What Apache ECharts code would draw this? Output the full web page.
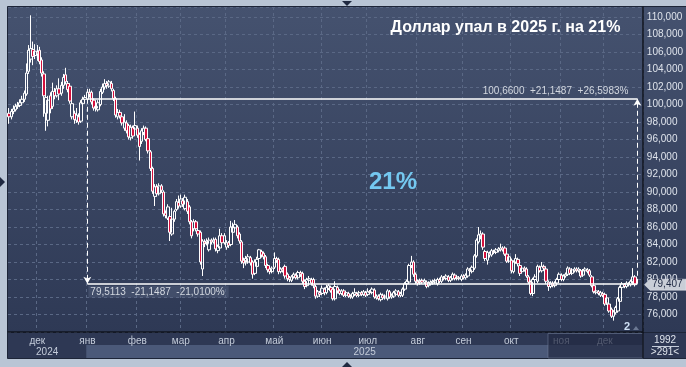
<!DOCTYPE html>
<html><head><meta charset="utf-8">
<script src="https://cdn.jsdelivr.net/npm/echarts@6/dist/echarts.min.js"></script>
<style>html,body{margin:0;padding:0;background:#b9c5d5;overflow:hidden}#c{width:686px;height:367px}</style>
</head><body><div id="c"></div>
<script>
// ---- data (USD/RUB daily candles) ----
const firstSession = [2024, 10, 13];   // 13 Nov 2024
const lastSlot = [2025, 11, 24];       // axis runs a few empty slots past the last candle
const extraSessions = ['2024-12-28'];  // working Saturday
const monthNames = ['янв','фев','мар','апр','май','июн','июл','авг','сен','окт','ноя','дек'];
const opens = [
99.0,98.6,99.2,99.4,99.8,99.9,100.2,100.6,101.2,103.8,105.2,106.3,105.6,106.0,106.2,105.1,103.5,99.0,98.2,101.0,
99.8,101.5,101.0,101.8,101.3,102.2,103.4,102.4,102.1,98.6,99.0,98.2,98.6,98.1,100.1,100.6,100.6,101.4,101.4,100.5,
99.6,99.4,100.0,101.4,102.0,102.4,102.1,102.4,101.6,100.7,98.6,99.1,98.6,97.3,97.9,97.6,96.2,97.4,97.2,97.3,
96.6,95.8,96.8,97.3,96.1,94.6,92.7,89.5,90.6,89.8,90.7,90.0,87.6,87.0,87.2,85.2,86.9,88.0,88.8,88.4,
89.0,88.1,88.9,88.3,86.6,85.8,86.6,85.6,85.4,81.2,84.3,84.1,83.4,84.5,84.3,84.6,83.3,83.6,85.0,84.2,
83.7,84.2,84.0,85.4,85.9,86.0,85.2,84.3,82.2,81.9,82.0,82.5,82.0,80.7,81.5,82.4,83.2,83.0,82.6,81.6,
81.2,80.9,81.4,82.4,82.3,80.9,81.2,81.5,80.6,80.2,79.9,80.3,80.5,80.2,80.8,80.7,79.8,79.3,79.9,80.0,
80.0,79.2,78.1,78.5,78.4,78.9,78.5,79.0,79.1,78.9,77.8,79.1,78.7,78.4,78.7,78.2,78.4,78.1,78.0,78.3,
78.4,78.2,78.5,78.3,78.5,78.3,78.6,78.5,78.8,77.9,78.1,77.7,78.2,77.9,77.8,78.6,78.0,78.1,78.3,78.6,
78.2,78.2,78.9,79.5,79.7,81.6,82.0,80.6,79.8,79.6,79.9,79.7,79.7,79.3,79.5,79.6,79.7,79.5,80.0,79.8,
80.2,80.1,80.3,79.9,80.1,80.5,80.1,80.2,80.0,80.4,80.2,80.4,81.1,80.9,81.3,82.7,84.3,85.0,85.2,83.2,
82.2,83.0,82.8,83.2,83.1,83.3,83.4,83.6,83.6,82.9,82.1,82.2,80.9,82.0,82.3,81.6,80.9,81.3,81.2,80.3,
79.7,78.4,80.0,79.8,81.4,81.0,81.5,81.2,79.7,79.2,79.6,79.3,79.6,80.0,80.5,80.0,80.4,80.6,81.2,80.7,
81.0,81.2,81.0,81.0,80.5,81.0,81.1,81.0,80.3,79.3,78.5,78.6,78.2,78.4,78.3,77.3,77.2,76.6,75.8,76.2,
76.4,77.5,79.1,79.4,79.2,79.5,79.4,79.6,80.3];
const closes = [
98.6,99.2,99.5,99.8,99.9,100.2,100.6,101.3,103.6,106.2,106.4,105.5,106.1,105.8,104.9,103.6,101.0,100.8,100.5,99.5,
101.5,101.0,101.8,101.2,102.2,103.1,102.6,101.7,100.4,100.1,98.3,98.8,98.0,100.2,100.6,100.8,101.4,101.2,100.3,99.6,
99.8,100.2,101.5,102.0,102.4,102.2,102.6,101.8,100.7,98.8,99.1,98.7,97.9,98.0,97.0,96.3,97.4,96.4,97.6,96.5,
95.2,97.0,97.3,96.0,94.7,92.7,90.1,90.6,89.8,90.7,90.2,87.5,87.3,88.3,85.4,86.9,87.8,88.9,88.4,89.2,
88.6,89.4,87.8,86.6,85.0,86.6,85.8,85.2,82.0,84.4,84.1,84.4,84.5,84.3,84.5,83.5,83.8,85.0,84.2,85.0,
84.2,83.9,86.0,86.0,86.3,85.0,84.4,82.1,81.9,82.4,82.6,81.9,80.6,82.0,82.3,83.4,82.8,82.6,81.6,81.1,
80.9,81.3,82.4,82.2,80.9,81.2,81.0,80.4,80.1,80.0,80.3,80.6,80.2,80.8,80.6,79.8,79.2,80.0,80.1,79.6,
79.3,78.1,78.6,78.3,79.0,78.5,79.1,79.3,78.7,77.8,79.2,78.7,78.4,78.7,78.2,78.5,78.1,78.0,78.4,78.5,
78.2,78.5,78.3,78.6,78.2,78.6,78.5,78.9,78.0,78.1,77.8,78.3,77.9,78.1,78.7,78.0,78.2,78.5,78.7,78.2,
78.4,78.9,79.5,79.8,81.6,82.0,80.6,79.8,79.6,79.9,79.7,79.9,79.2,79.6,79.7,79.8,79.9,80.0,79.8,80.3,
80.1,80.4,79.9,80.2,80.6,80.1,80.3,80.1,80.4,80.2,80.5,81.2,81.0,81.4,82.7,84.5,85.1,85.2,83.7,82.4,
83.1,82.8,83.3,83.1,83.4,83.5,83.6,83.4,82.9,82.1,82.6,81.0,82.0,82.4,81.8,80.7,81.3,81.1,80.4,79.7,
78.4,80.0,80.3,81.5,81.0,81.5,81.3,79.8,79.2,79.6,79.3,79.6,80.0,80.6,80.0,80.4,80.6,81.3,80.7,81.1,
81.2,81.0,81.2,80.4,81.0,81.2,80.9,80.5,79.3,78.6,78.7,78.4,78.5,78.2,77.2,77.9,76.4,75.8,76.3,76.8,
77.8,79.1,79.5,79.2,79.6,79.4,79.8,80.3,79.407];
const lows = [
97.8,98.3,98.9,99.2,99.5,99.7,100.0,100.3,101.0,103.5,104.8,104.5,105.2,105.0,104.6,103.2,98.6,97.0,97.5,99.0,
99.5,100.6,100.8,100.5,101.0,101.8,102.3,101.4,100.1,98.3,97.8,97.9,97.7,97.9,99.8,100.4,100.3,100.8,100.0,99.3,
99.2,99.2,99.8,101.2,101.7,101.8,101.9,101.5,100.4,98.5,98.3,98.4,97.6,97.0,96.7,96.0,95.9,96.1,96.8,96.2,
93.6,95.5,96.5,95.8,94.4,92.4,89.8,88.4,89.5,89.6,89.9,87.2,87.0,86.8,84.4,85.0,86.6,87.8,88.1,88.2,
88.3,87.9,87.5,86.3,84.7,85.5,85.5,84.9,81.7,80.4,83.7,83.9,83.2,84.0,84.1,83.2,83.0,83.4,83.9,84.0,
83.4,83.6,83.8,85.1,85.6,84.7,84.1,81.8,81.3,81.6,81.8,81.6,80.1,80.5,81.2,82.2,82.5,82.3,81.3,80.8,
80.6,80.7,81.2,81.9,80.6,80.7,80.8,80.1,79.8,79.7,79.7,80.1,80.0,80.0,80.3,79.5,78.9,79.1,79.6,79.3,
79.0,77.8,77.9,78.0,78.2,78.2,78.3,78.8,78.5,77.6,77.6,78.4,78.2,78.2,78.0,78.0,77.9,77.8,77.8,78.1,
78.0,78.0,78.1,78.1,78.0,78.1,78.3,78.3,77.8,77.7,77.6,77.5,77.7,77.7,77.6,77.8,77.8,77.9,78.1,78.0,
78.0,78.0,78.7,79.3,79.5,81.3,80.3,79.5,79.3,79.4,79.5,79.5,79.0,79.1,79.3,79.4,79.5,79.3,79.6,79.6,
79.9,79.9,79.7,79.7,79.9,79.9,79.9,79.9,79.8,80.0,80.0,80.2,80.7,80.7,81.1,82.5,84.1,84.6,83.4,82.1,
81.7,82.5,82.6,82.9,82.9,83.1,83.2,83.2,82.7,81.9,81.9,80.7,80.7,81.8,81.5,80.4,80.7,80.9,80.2,79.5,
78.2,78.1,79.8,79.6,80.8,80.8,81.0,79.5,78.7,79.0,79.1,79.1,79.4,79.8,79.8,79.8,80.2,80.4,80.5,80.5,
80.8,80.8,80.8,80.2,80.3,80.8,80.7,80.3,79.1,78.4,78.3,78.2,78.0,78.0,77.0,77.1,76.2,75.6,75.3,76.0,
76.2,77.3,78.9,79.0,79.0,79.2,79.2,79.4,79.2];
const highs = [
99.6,99.5,99.9,100.1,100.3,100.6,101.0,101.6,104.7,106.8,110.2,107.2,106.9,106.8,106.6,105.4,103.8,101.2,101.0,101.4,
102.5,101.9,102.2,103.0,102.6,103.5,104.2,102.7,102.4,100.4,99.3,99.6,99.0,100.5,100.9,101.1,101.8,101.8,101.6,100.7,
100.2,100.5,101.8,102.4,102.9,102.7,102.8,102.7,101.8,100.9,99.5,99.4,98.9,98.9,98.2,97.8,97.7,97.6,99.2,97.6,
96.8,97.3,97.6,97.5,96.3,94.8,92.9,90.9,90.9,91.0,90.9,90.2,87.9,88.6,87.4,88.2,88.0,89.2,89.6,89.7,
89.3,89.7,89.2,88.5,86.8,86.9,86.8,85.9,85.6,84.6,84.6,84.7,84.8,84.7,84.8,84.8,84.0,85.8,85.3,85.3,
84.5,84.4,86.7,86.5,86.8,86.2,85.4,84.5,82.5,82.7,82.9,82.7,82.2,82.3,82.6,83.5,83.4,83.2,82.8,81.8,
81.5,81.5,83.1,82.6,82.5,81.4,81.4,81.7,80.8,80.4,80.5,80.8,80.7,81.0,81.0,80.9,80.0,80.2,80.4,80.2,
80.2,79.4,78.8,78.7,79.3,79.1,79.4,79.5,79.3,79.1,79.8,79.3,78.9,78.9,78.9,78.7,78.6,78.3,78.6,79.0,
78.6,78.7,78.7,78.8,78.7,79.0,78.8,79.1,79.0,78.3,78.3,78.5,78.4,78.3,78.9,78.8,78.4,78.7,78.9,78.8,
78.6,79.1,79.7,80.0,81.8,82.7,82.2,80.8,80.0,80.1,80.1,80.1,79.9,79.8,79.9,80.0,80.1,80.2,80.2,80.5,
80.4,80.6,80.5,80.4,80.8,80.7,80.5,80.4,80.6,80.6,80.7,81.4,81.3,81.6,82.9,84.7,86.0,85.6,85.4,83.4,
83.3,83.2,83.5,83.4,83.6,83.7,84.1,83.8,83.8,83.1,82.8,82.4,82.2,82.9,82.5,81.8,81.5,81.5,81.4,80.5,
79.9,80.2,80.6,81.7,81.6,82.0,81.7,81.4,79.9,79.8,79.8,79.8,80.2,80.8,80.7,80.6,80.8,81.5,81.4,81.3,
81.4,81.4,81.4,81.2,81.2,81.4,81.3,81.2,80.5,79.5,78.9,78.8,78.7,78.6,78.5,78.1,77.4,76.8,76.5,77.0,
78.0,79.3,79.7,79.6,79.8,79.7,80.0,81.3,80.5];
const measureFromIndex = 36, measureToIndex = 289;
const measureHigh = 100.66, measureLow = 79.5113, measureDiff = 21.1487;
const measureUpPct = 26.5983, measureDownPct = 21.0100;
const lastPrice = 79.407;
const yMin = 74, yMax = 111.15, yStep = 2;
const titleText = 'Доллар упал в 2025 г. на 21%';
const bigLabel = '21%';
const barsCountText = '1992', visibleText = '>291<';

// ---- categories: trading sessions ----
function buildSessions() {
  const out = [];
  let t = Date.UTC(firstSession[0], firstSession[1], firstSession[2]);
  const end = Date.UTC(lastSlot[0], lastSlot[1], lastSlot[2]);
  while (t <= end) {
    const d = new Date(t);
    const s = d.toISOString().slice(0, 10);
    const wd = d.getUTCDay();
    if ((wd > 0 && wd < 6) || extraSessions.indexOf(s) >= 0) out.push(s);
    t += 86400000;
  }
  return out;
}
const cats = buildSessions();
const isMonthStart = (i) => i > 0 && cats[i] && cats[i].slice(0, 7) !== cats[i - 1].slice(0, 7);
const candleData = opens.map((o, i) => [o, closes[i], lows[i], highs[i]]);

const fmt4 = v => v.toFixed(4).replace('.', ',');
const upText = fmt4(measureHigh) + '  +' + fmt4(measureDiff) + '  +' + fmt4(measureUpPct) + '%';
const downText = fmt4(measureLow) + '  -' + fmt4(measureDiff) + '  -' + fmt4(measureDownPct) + '%';

const FONT = '"Liberation Sans", Arial, sans-serif';
const chart = echarts.init(document.getElementById('c'), null, { renderer: 'canvas' });
const dashColor = '#5a6885';

chart.setOption({
  animation: false,
  backgroundColor: 'transparent',
  grid: { left: 8, right: 43, top: 7, bottom: 35 },
  xAxis: {
    type: 'category', data: cats, boundaryGap: true,
    axisLine: { show: true, lineStyle: { color: '#10151f', width: 1.5 } },
    axisTick: { show: false },
    axisLabel: {
      interval: (i) => isMonthStart(i),
      formatter: (v) => monthNames[parseInt(v.slice(5, 7), 10) - 1],
      color: '#c4ccda', fontSize: 10, fontFamily: FONT, margin: 4
    },
    splitLine: { show: true, interval: (i) => isMonthStart(i), lineStyle: { color: dashColor, type: [3, 3], width: 1 } }
  },
  yAxis: {
    type: 'value', position: 'right', min: yMin, max: yMax, interval: yStep, scale: true,
    axisLine: { show: true, lineStyle: { color: '#10151f', width: 1.5 } },
    axisTick: { show: false },
    axisLabel: {
      color: '#dfe4ec', fontSize: 10, fontFamily: FONT, margin: 4,
      formatter: (v) => (v > yMin + 0.5 && v < yMax - 0.5) ? v.toFixed(3).replace('.', ',') : ''
    },
    splitLine: { show: true, lineStyle: { color: dashColor, type: [3, 3], width: 1 } }
  },
  series: [{
    type: 'candlestick',
    data: candleData,
    barWidth: 3,
    itemStyle: { color: 'rgba(0,0,0,0)', color0: '#d4103c', borderColor: '#ffffff', borderColor0: '#ffffff', borderWidth: 1 },
    markLine: {
      silent: true, symbol: 'none', animation: false,
      data: [
        [{ coord: [cats[measureFromIndex], measureHigh], lineStyle: { color: '#ffffff', width: 1.5, type: 'solid' },
           label: { show: true, position: 'insideEndTop', formatter: upText, color: '#d3d8e0', fontSize: 10, fontFamily: FONT, distance: [9, 3] } },
         { coord: [cats[measureToIndex], measureHigh] }],
        [{ coord: [cats[measureFromIndex], measureLow], lineStyle: { color: '#ffffff', width: 1.5, type: 'solid' },
           label: { show: true, position: 'insideStartBottom', formatter: downText, color: '#d3d8e0', fontSize: 10, fontFamily: FONT,
                    distance: [1, 2], backgroundColor: 'rgba(88,100,128,0.45)', padding: [1, 4, 1, 2] } },
         { coord: [cats[measureToIndex], measureLow] }],
        [{ coord: [cats[measureFromIndex], measureHigh], symbol: 'none', lineStyle: { color: '#ffffff', width: 1, type: [5, 3] }, label: { show: false } },
         { coord: [cats[measureFromIndex], measureLow], symbol: 'arrow', symbolSize: [6, 7] }],
        [{ coord: [cats[measureToIndex], measureLow], symbol: 'none', lineStyle: { color: '#ffffff', width: 1, type: [5, 3] }, label: { show: false } },
         { coord: [cats[measureToIndex], measureHigh], symbol: 'arrow', symbolSize: [6, 7] }]
      ]
    }
  }]
});

// ---- decorations positioned from the axes ----
const px = (i) => chart.convertToPixel({ xAxisIndex: 0 }, cats[i]);
const band = px(1) - px(0);
const jan = cats.findIndex((c, i) => isMonthStart(i) && c.slice(0, 4) === '2025');
const janX = px(jan) - band / 2;
const gridL = 8, gridR = 643;
const priceY = chart.convertToPixel({ yAxisIndex: 0 }, lastPrice);

chart.setOption({
  graphic: [
    { type: 'rect', z: -100, silent: true, shape: { x: 7.5, y: 6.5, width: 679, height: 326 },
      style: { fill: new echarts.graphic.LinearGradient(0, 0, 0, 1, [{ offset: 0, color: '#45526f' }, { offset: 1, color: '#2e3955' }]), stroke: '#1d2538', lineWidth: 1 } },
    { type: 'rect', z: -100, silent: true, shape: { x: 7.5, y: 332.5, width: 679, height: 26 }, style: { fill: '#2e3854', stroke: '#1d2538', lineWidth: 1 } },
    { type: 'rect', z: -99, silent: true, shape: { x: janX, y: 345, width: gridR - janX, height: 13 }, style: { fill: '#4b5979' } },
    { type: 'text', z: 50, silent: true, style: { x: (gridL + janX) / 2, y: 352, text: '2024', textAlign: 'center', textVerticalAlign: 'middle', fill: '#c4ccda', font: '10px ' + FONT } },
    { type: 'text', z: 50, silent: true, style: { x: (janX + gridR) / 2, y: 352, text: '2025', textAlign: 'center', textVerticalAlign: 'middle', fill: '#c4ccda', font: '10px ' + FONT } },
    { type: 'rect', z: 60, silent: true, shape: { x: 548, y: 333.5, width: gridR - 548, height: 24.5 }, style: { fill: 'rgba(34,42,66,0.72)', stroke: 'rgba(120,132,160,0.5)', lineWidth: 1 } },
    { type: 'line', z: 61, silent: true, shape: { x1: gridR, y1: 332, x2: gridR, y2: 358 }, style: { stroke: '#10151f', lineWidth: 1.5 } },
    { type: 'text', z: 62, silent: true, style: { x: 665, y: 340, text: barsCountText, textAlign: 'center', textVerticalAlign: 'middle', fill: '#dfe4ec', font: '10px ' + FONT } },
    { type: 'line', z: 62, silent: true, shape: { x1: 652, y1: 346.5, x2: 679, y2: 346.5 }, style: { stroke: '#c4ccda', lineWidth: 1 } },
    { type: 'text', z: 62, silent: true, style: { x: 665, y: 352.5, text: visibleText, textAlign: 'center', textVerticalAlign: 'middle', fill: '#dfe4ec', font: '10px ' + FONT } },
    { type: 'polygon', z: 70, silent: true, shape: { points: [[644.5, priceY], [650, priceY - 5.5], [686, priceY - 5.5], [686, priceY + 5.5], [650, priceY + 5.5]] },
      style: { fill: '#c9ced7', stroke: '#e8ebf0', lineWidth: 0.5 } },
    { type: 'text', z: 71, silent: true, style: { x: 652, y: priceY, text: lastPrice.toFixed(3).replace('.', ','), textVerticalAlign: 'middle', fill: '#1c2640', font: '10px ' + FONT } },
    { type: 'text', z: 50, silent: true, style: { x: 505.5, y: 28, text: titleText, textAlign: 'center', textVerticalAlign: 'middle', fill: '#ffffff', font: 'bold 16px ' + FONT } },
    { type: 'text', z: 50, silent: true, style: { x: 393, y: 182, text: bigLabel, textAlign: 'center', textVerticalAlign: 'middle', fill: '#74c8f0', font: 'bold 24px ' + FONT } },
    { type: 'text', z: 50, silent: true, style: { x: 627, y: 327, text: '2', textAlign: 'center', textVerticalAlign: 'middle', fill: '#cfe0f5', font: 'bold 11px ' + FONT } },
    { type: 'polygon', z: 50, silent: true, shape: { points: [[633, 330], [639, 330], [636, 326]] }, style: { fill: '#6b7892' } },
    { type: 'polygon', z: 80, silent: true, shape: { points: [[342, 1], [352, 1], [347, 6]] }, style: { fill: '#1f2940' } },
    { type: 'polygon', z: 80, silent: true, shape: { points: [[342, 367], [352, 367], [347, 362]] }, style: { fill: '#1f2940' } },
    { type: 'polygon', z: 80, silent: true, shape: { points: [[0, 177], [0, 187], [5, 182]] }, style: { fill: '#1f2940' } }
  ]
});
</script></body></html>
